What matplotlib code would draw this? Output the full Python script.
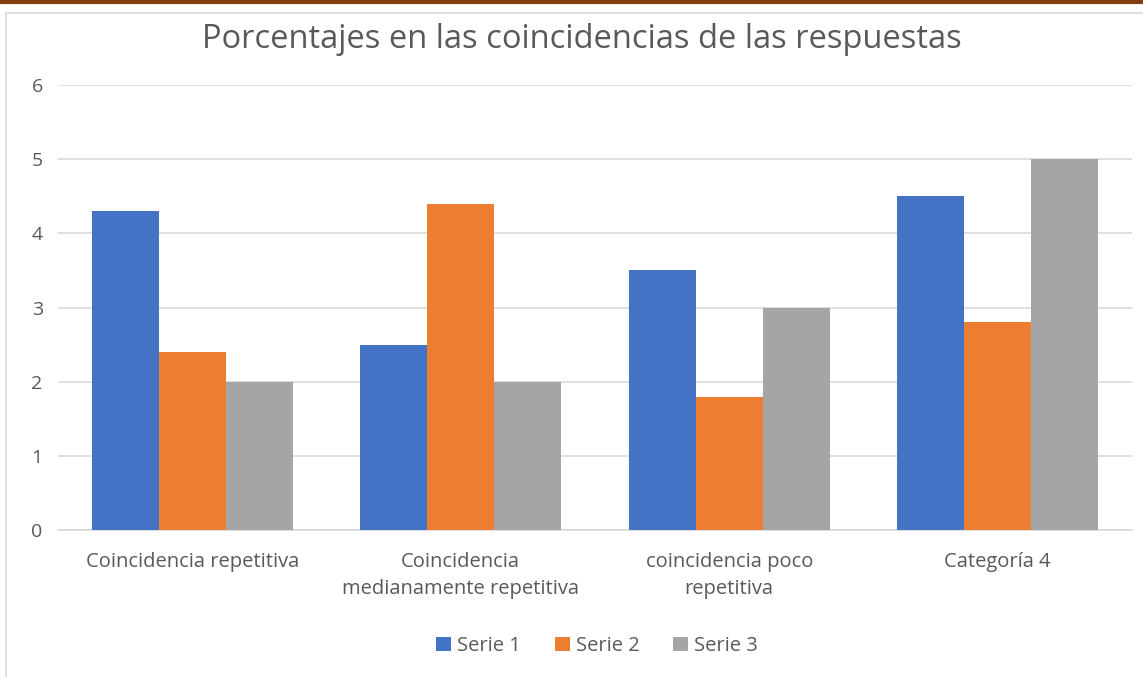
import matplotlib.pyplot as plt
import numpy as np
from matplotlib.patches import Rectangle
from matplotlib.lines import Line2D

categories = ["Coincidencia repetitiva",
              "Coincidencia\nmedianamente repetitiva",
              "coincidencia poco\nrepetitiva",
              "Categoría 4"]
serie1 = [4.3, 2.5, 3.5, 4.5]
serie2 = [2.4, 4.4, 1.8, 2.8]
serie3 = [2, 2, 3, 5]
series_names = ["Serie 1", "Serie 2", "Serie 3"]
colors = ["#4472C4", "#ED7D31", "#A5A5A5"]

plt.rcParams['font.family'] = ['Open Sans', 'DejaVu Sans']
text_color = "#595959"

fig = plt.figure(figsize=(11.43, 6.77), dpi=100)

# marco del gráfico y línea marrón superior
fig.patches.append(Rectangle((6 / 1143, -0.05), 1.2, 1 - 13 / 677 + 0.05,
                             transform=fig.transFigure, fill=False,
                             edgecolor="#D9D9D9", linewidth=1.2))
fig.lines.append(Line2D([0, 1], [1 - 1.5 / 677, 1 - 1.5 / 677],
                        transform=fig.transFigure, color="#843C0C", linewidth=3))

ax = fig.add_axes([58 / 1143, 1 - 530 / 677, (1132 - 58) / 1143, (530 - 85) / 677])

x = np.arange(len(categories))
w = 0.25
for i, vals in enumerate([serie1, serie2, serie3]):
    ax.bar(x + (i - 1) * w, vals, width=w, color=colors[i], label=series_names[i], zorder=3)

ax.set_xlim(-0.5, len(categories) - 0.5)
ax.set_ylim(0, 6)
ax.set_yticks(range(7))
ax.yaxis.grid(True, color="#D9D9D9", linewidth=1.2, zorder=0)
ax.set_xticks(x)
ax.set_xticklabels(categories, fontsize=14.5, color=text_color, linespacing=1.5)
ax.tick_params(axis='y', labelsize=14, labelcolor=text_color, length=0, pad=11)
ax.tick_params(axis='x', length=0, pad=15.5)
for s in ["top", "right", "left"]:
    ax.spines[s].set_visible(False)
ax.spines["bottom"].set_color("#D9D9D9")
ax.spines["bottom"].set_linewidth(1.2)

fig.text(582 / 1143, 1 - 40 / 677, "Porcentajes en las coincidencias de las respuestas",
         ha="center", va="center", fontsize=23.5, color=text_color)

fig.legend(loc="center", bbox_to_anchor=(597 / 1143, 1 - 646 / 677), ncol=3,
           frameon=False, fontsize=14.5, labelcolor=text_color,
           handlelength=0.75, handleheight=0.75, handletextpad=0.3, columnspacing=1.65)

fig.savefig("out.png", dpi=100, facecolor="white")
